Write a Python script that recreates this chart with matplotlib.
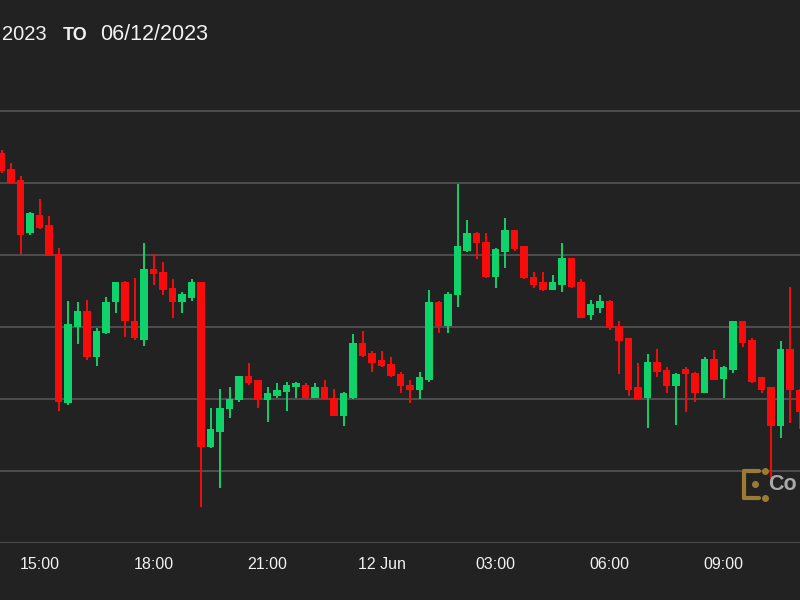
import matplotlib
matplotlib.use("Agg")
import matplotlib.pyplot as plt
import matplotlib.dates as mdates
import pandas as pd
from datetime import datetime, timedelta
from matplotlib.ticker import FuncFormatter
from matplotlib.lines import Line2D

##############################################################################
# data: 15 minute candles, 11 Jun 2023 14:00 -> 12 Jun 2023 11:00 (USD)

start = "2023-06-11 14:00"

opens = [25971, 25960, 25952, 25915, 25928, 25921, 25901, 25797, 25850, 25861,
         25829, 25846, 25867, 25881, 25854, 25841, 25890, 25888, 25877, 25867,
         25870, 25881, 25767, 25777, 25793, 25799, 25816, 25813, 25799, 25802,
         25805, 25808, 25810, 25801, 25808, 25801, 25788, 25801, 25839, 25832,
         25827, 25824, 25817, 25810, 25806, 25813, 25867, 25851, 25872, 25903,
         25915, 25909, 25885, 25902, 25917, 25906, 25885, 25881, 25876, 25879,
         25898, 25881, 25858, 25863, 25868, 25851, 25842, 25808, 25801, 25826,
         25820, 25809, 25821, 25818, 25804, 25828, 25814, 25820, 25854, 25841,
         25815, 25808, 25781, 25835, 25806]

highs = [25973, 25964, 25955, 25930, 25939, 25927, 25905, 25868, 25867, 25869,
         25849, 25871, 25881, 25882, 25884, 25908, 25901, 25895, 25883, 25874,
         25883, 25881, 25794, 25807, 25808, 25816, 25825, 25813, 25808, 25811,
         25812, 25812, 25811, 25811, 25813, 25807, 25805, 25845, 25847, 25833,
         25833, 25829, 25819, 25813, 25819, 25876, 25868, 25874, 25949, 25924,
         25916, 25915, 25905, 25926, 25917, 25906, 25888, 25888, 25886, 25908,
         25898, 25883, 25869, 25872, 25869, 25854, 25842, 25825, 25831, 25835,
         25822, 25818, 25822, 25819, 25829, 25834, 25823, 25854, 25854, 25842,
         25815, 25808, 25840, 25878, 25807]

lows = [25957, 25949, 25901, 25914, 25918, 25899, 25792, 25796, 25838, 25827,
        25823, 25845, 25860, 25843, 25841, 25837, 25879, 25872, 25856, 25860,
        25868, 25725, 25766, 25738, 25787, 25798, 25810, 25794, 25784, 25801,
        25792, 25801, 25800, 25801, 25799, 25788, 25781, 25800, 25829, 25819,
        25822, 25815, 25804, 25797, 25800, 25812, 25846, 25846, 25864, 25902,
        25897, 25884, 25877, 25891, 25903, 25883, 25877, 25875, 25876, 25874,
        25877, 25856, 25855, 25860, 25848, 25817, 25802, 25799, 25780, 25815,
        25804, 25782, 25791, 25798, 25804, 25813, 25801, 25818, 25836, 25811,
        25804, 25745, 25773, 25783, 25779]

closes = [25958, 25950, 25914, 25929, 25919, 25899, 25798, 25852, 25861, 25829,
          25847, 25867, 25881, 25854, 25842, 25890, 25887, 25876, 25867, 25873,
          25881, 25767, 25779, 25794, 25800, 25816, 25811, 25799, 25804, 25806,
          25810, 25811, 25801, 25808, 25800, 25788, 25804, 25839, 25830, 25825,
          25823, 25816, 25809, 25806, 25815, 25867, 25851, 25873, 25906, 25915,
          25908, 25885, 25904, 25917, 25904, 25884, 25879, 25876, 25881, 25898,
          25878, 25856, 25866, 25868, 25849, 25840, 25806, 25800, 25826, 25819,
          25809, 25817, 25817, 25804, 25828, 25813, 25822, 25854, 25839, 25812,
          25806, 25781, 25835, 25806, 25791]

grid_prices = [25700, 25750, 25800, 25850, 25900, 25950, 26000]

##############################################################################
# styling

BG = "#222222"
UP = "#10d26b"
DOWN = "#f80b0b"
GRID = "#4c4c4c"
TXT = "#f2f2f2"

plt.rcParams["font.family"] = ["Liberation Sans", "DejaVu Sans"]

df = pd.DataFrame({"open": opens, "high": highs, "low": lows, "close": closes})
df.index = pd.date_range(start, periods=len(df), freq="15min")
x = mdates.date2num(df.index.to_pydatetime())
up = df["close"] >= df["open"]
cols = [UP if u else DOWN for u in up]

fig = plt.figure(figsize=(8, 6), dpi=100, facecolor=BG)
ax = fig.add_axes([0, 0.095, 1, 0.7717])
ax.set_facecolor(BG)

# wicks
ax.vlines(x, df["low"], df["high"], colors=cols, linewidth=1.4, zorder=2)

# bodies
body_w = 7.8 / 38 / 24  # ~7.8 px at 38 px per hour
bottoms = df[["open", "close"]].min(axis=1)
heights = (df["close"] - df["open"]).abs().clip(lower=1.2)
ax.bar(x, heights, bottom=bottoms, width=body_w, color=cols, linewidth=0, zorder=3)

# axes range: visible window is a crop of a wider chart
left = datetime(2023, 6, 11, 13, 57, 36)
right = left + timedelta(hours=800 / 38)
ax.set_xlim(left, right)
ax.set_ylim(25700, 26021.5)

ax.set_yticks(grid_prices)
ax.yaxis.grid(True, color=GRID, linewidth=1.5)
ax.set_axisbelow(True)
ax.tick_params(axis="y", length=0, labelleft=False)

ax.xaxis.set_major_locator(mdates.HourLocator(byhour=[0, 3, 6, 9, 12, 15, 18, 21]))


def fmt_time(v, pos):
    d = mdates.num2date(v)
    if d.hour == 0:
        return f"{d.day} {d.strftime('%b')}"
    return d.strftime("%H:%M")


ax.xaxis.set_major_formatter(FuncFormatter(fmt_time))
ax.tick_params(axis="x", length=0, pad=10, labelsize=11.5, labelcolor=TXT)

for s in ax.spines.values():
    s.set_visible(False)

# header (date range; the start date is cut by the crop, only the year shows)
fig.text(2 / 800, 1 - 35 / 600, "2023", ha="left", va="center",
         color=TXT, fontsize=14.5)
fig.text(63 / 800, 1 - 35 / 600, "TO", ha="left", va="center",
         color=TXT, fontsize=13, fontweight="bold")
fig.text(100 / 800, 1 - 35 / 600, "06/12/2023", ha="left", va="center",
         color=TXT, fontsize=15.5)

# watermark (logo + start of the name, cut by the right edge)
gold = "#9b7b32"


def px(xp, yp):
    return xp / 800, 1 - yp / 600


for (x0, y0), (x1, y1) in [((744, 471), (744, 498)),
                           ((744, 471), (759, 471)),
                           ((744, 498), (759, 498))]:
    (a, b), (c, d) = px(x0, y0), px(x1, y1)
    fig.add_artist(Line2D([a, c], [b, d], color=gold, linewidth=3,
                          solid_capstyle="round", transform=fig.transFigure))
for xp, yp in [(765, 471), (765, 498), (755, 484)]:
    a, b = px(xp, yp)
    fig.add_artist(Line2D([a], [b], marker="o", markersize=4, color=gold,
                          linestyle="none", transform=fig.transFigure))

fig.text(797 / 800, 1 - 484 / 600, "Co", ha="right", va="center",
         color="#a9a9a9", fontsize=15.5, fontweight="bold")

fig.savefig("out.png", dpi=100, facecolor=BG)
